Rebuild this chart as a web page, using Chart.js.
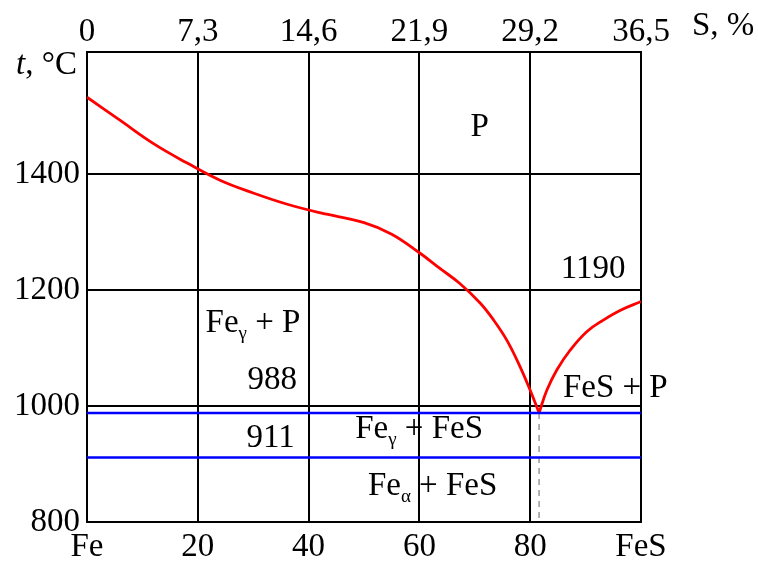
<!DOCTYPE html>
<html>
<head>
<meta charset="utf-8">
<script src="https://cdn.jsdelivr.net/npm/chart.js@4/dist/chart.umd.min.js"></script>
<style>
  html, body { margin: 0; padding: 0; background: #fff; }
</style>
</head>
<body>
<canvas id="chart" width="758" height="562"></canvas>
<script>
// axis labels
const bottomLabels = ['Fe', '20', '40', '60', '80', 'FeS'];
const topLabels = ['0', '7,3', '14,6', '21,9', '29,2', '36,5'];
const yTicks = [800, 1000, 1200, 1400];

// liquidus, Fe side (FeS, %  /  t, °C)
const liqFeX = [0, 6, 12, 18, 24, 30, 36, 42, 50, 55, 60, 63.7, 67.3, 71, 73.4, 75.8, 78.2, 80, 81.6];
const liqFeT = [1532, 1492, 1452, 1419, 1389, 1367, 1348, 1333, 1316, 1296, 1264, 1237, 1211, 1177, 1148, 1113, 1067, 1027, 988];

// liquidus, FeS side
const liqFeSX = [81.6, 83, 84.8, 87.2, 90.2, 93.2, 96.3, 100];
const liqFeST = [988, 1027, 1062, 1096, 1128, 1148, 1165, 1180];

// isotherms
const eutecticX = 81.6;
const eutecticT = 988;
const transformT = 911;

const FONT = "'Liberation Serif', 'Times New Roman', serif";

const toPts = (xs, ts) => xs.map((x, i) => ({ x: x, y: ts[i] }));

// region labels: [text, 'sub'] pieces
const notes = [
  { x: 70.9, t: 1466, align: 'center', parts: [['P']] },
  { x: 97.2, t: 1220, align: 'right', parts: [['1190']] },
  { x: 85.9, t: 1015, align: 'left', parts: [['FeS + P']] },
  { x: 21.4, t: 1128, align: 'left', parts: [['Fe'], ['γ', 'sub'], [' + P']] },
  { x: 37.9, t: 1030, align: 'right', parts: [['988']] },
  { x: 37.5, t: 929, align: 'right', parts: [['911']] },
  { x: 48.4, t: 944, align: 'left', parts: [['Fe'], ['γ', 'sub'], [' + FeS']] },
  { x: 50.7, t: 847, align: 'left', parts: [['Fe'], ['α', 'sub'], [' + FeS']] }
];

function drawParts(ctx, parts, x, y, align) {
  const main = '33px ' + FONT;
  const small = '19px ' + FONT;
  let w = 0;
  parts.forEach(p => {
    ctx.font = p[1] === 'sub' ? small : main;
    w += ctx.measureText(p[0]).width;
  });
  let cx = align === 'center' ? x - w / 2 : align === 'right' ? x - w : x;
  ctx.textAlign = 'left';
  ctx.textBaseline = 'alphabetic';
  parts.forEach(p => {
    const sub = p[1] === 'sub';
    ctx.font = sub ? small : main;
    ctx.fillText(p[0], cx, sub ? y + 7 : y);
    cx += ctx.measureText(p[0]).width;
  });
}

const textPlugin = {
  id: 'diagramText',
  afterDatasetsDraw(chart) {
    const ctx = chart.ctx;
    const xs = chart.scales.x;
    const ys = chart.scales.y;
    const area = chart.chartArea;
    ctx.save();
    ctx.fillStyle = '#000';
    notes.forEach(n => {
      drawParts(ctx, n.parts, xs.getPixelForValue(n.x), ys.getPixelForValue(n.t), n.align);
    });
    // axis titles
    ctx.textBaseline = 'alphabetic';
    ctx.textAlign = 'left';
    ctx.font = '33px ' + FONT;
    const rest = ', °C';
    const restW = ctx.measureText(rest).width;
    ctx.font = 'italic 33px ' + FONT;
    const tW = ctx.measureText('t').width;
    const tx = area.left - 10 - restW - tW;
    ctx.fillText('t', tx, area.top + 22);
    ctx.font = '33px ' + FONT;
    ctx.fillText(rest, tx + tW, area.top + 22);
    ctx.fillText('S, %', area.right + 51, area.top - 17);
    ctx.restore();
  }
};

const gridStyle = { color: '#000', lineWidth: 2, drawTicks: false };
const borderStyle = { display: true, color: '#000', width: 2 };
const tickFont = { family: FONT, size: 33 };

new Chart(document.getElementById('chart'), {
  type: 'line',
  data: {
    datasets: [
      {
        data: [{ x: 0, y: eutecticT }, { x: 100, y: eutecticT }],
        borderColor: '#0000ff', borderWidth: 2.5
      },
      {
        data: [{ x: 0, y: transformT }, { x: 100, y: transformT }],
        borderColor: '#0000ff', borderWidth: 2.5
      },
      {
        data: [{ x: eutecticX, y: eutecticT }, { x: eutecticX, y: 800 }],
        borderColor: '#999999', borderWidth: 1.5, borderDash: [6, 5]
      },
      {
        data: toPts(liqFeX, liqFeT),
        borderColor: '#ff0000', borderWidth: 2.8,
        tension: 0.4
      },
      {
        data: toPts(liqFeSX, liqFeST),
        borderColor: '#ff0000', borderWidth: 2.8,
        tension: 0.4
      }
    ]
  },
  options: {
    responsive: false,
    animation: false,
    layout: { padding: { left: 0, right: 117, top: 0, bottom: 0 } },
    elements: { point: { radius: 0 } },
    plugins: {
      legend: { display: false },
      tooltip: { enabled: false }
    },
    scales: {
      x: {
        type: 'linear',
        position: 'bottom',
        min: 0,
        max: 100,
        grid: gridStyle,
        border: borderStyle,
        ticks: {
          stepSize: 20,
          autoSkip: false,
          maxRotation: 0,
          padding: 6,
          color: '#000',
          font: tickFont,
          callback: (v, i) => bottomLabels[i]
        },
        afterFit: scale => { scale.height = 40; }
      },
      x2: {
        type: 'linear',
        position: 'top',
        min: 0,
        max: 100,
        grid: { display: false, drawTicks: false },
        border: borderStyle,
        ticks: {
          stepSize: 20,
          autoSkip: false,
          maxRotation: 0,
          padding: 0,
          color: '#000',
          font: tickFont,
          callback: (v, i) => topLabels[i]
        },
        afterFit: scale => { scale.height = 52; }
      },
      y: {
        type: 'linear',
        min: 800,
        max: 1610,
        grid: gridStyle,
        border: borderStyle,
        afterBuildTicks: scale => { scale.ticks = yTicks.map(v => ({ value: v })); },
        ticks: {
          padding: 7,
          color: '#000',
          font: tickFont,
          callback: v => String(v)
        },
        afterFit: scale => { scale.width = 87; }
      }
    }
  },
  plugins: [textPlugin]
});
</script>
</body>
</html>
